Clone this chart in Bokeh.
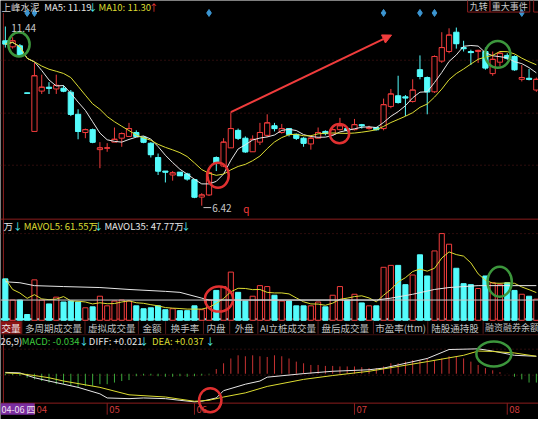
import pandas as pd
from bokeh.plotting import figure
from bokeh.models import Range1d, Label, Span, Arrow, NormalHead, ColumnDataSource
from bokeh.embed import file_html
from bokeh.resources import INLINE

# ---------------- data ----------------
stock_name = "上峰水泥"
opens = [11.04, 10.87, 10.90, 9.58, 8.50, 9.63, 9.74, 9.69, 9.71, 9.60,
         8.98, 8.47, 8.55, 7.99, 8.03, 8.20, 8.31, 8.36, 8.47, 8.34,
         8.17, 7.77, 7.39, 7.28, 7.36, 7.31, 7.15, 6.66, 6.72, 7.77,
         7.53, 8.04, 8.53, 8.31, 7.93, 8.20, 8.39, 8.66, 8.47, 8.58,
         8.42, 8.31, 8.15, 8.31, 8.50, 8.42, 8.55, 8.58, 8.55, 8.69,
         8.58, 8.61, 8.58, 9.20, 9.50, 9.47, 9.34, 10.23, 10.01, 9.61,
         10.47, 10.74, 11.28, 10.85, 10.74, 10.74, 10.74, 10.12, 10.44, 10.63,
         10.60, 9.96, 9.99, 9.66]
highs = [11.44, 11.14, 10.95, 9.58, 10.42, 10.09, 9.88, 10.09, 9.79, 9.66,
         9.12, 8.58, 8.58, 8.20, 8.17, 8.61, 8.47, 8.74, 8.53, 8.36,
         8.20, 7.88, 7.39, 7.39, 7.36, 7.34, 7.17, 6.77, 7.39, 7.80,
         8.31, 9.04, 8.58, 8.36, 8.39, 8.74, 8.98, 8.74, 8.71, 8.58,
         8.44, 8.34, 8.39, 8.61, 8.53, 8.66, 8.88, 8.61, 8.85, 8.71,
         8.66, 8.63, 9.42, 9.69, 10.06, 9.52, 9.96, 10.63, 10.04, 10.63,
         11.28, 11.39, 11.41, 11.04, 10.79, 10.79, 10.85, 10.74, 10.74, 10.69,
         10.63, 10.36, 10.25, 10.01]
lows = [10.85, 10.82, 10.60, 9.57, 8.50, 9.55, 9.55, 9.55, 9.60, 8.93,
        8.28, 8.31, 8.17, 7.47, 7.93, 8.20, 8.07, 8.36, 8.34, 8.17,
        7.77, 7.28, 7.07, 7.12, 7.26, 7.12, 6.63, 6.42, 6.69, 7.39,
        7.50, 8.04, 8.26, 7.90, 7.93, 8.12, 8.34, 8.50, 8.44, 8.36,
        8.26, 8.07, 7.99, 8.31, 8.39, 8.39, 8.53, 8.47, 8.53, 8.58,
        8.55, 8.53, 8.53, 9.15, 9.28, 8.93, 9.31, 9.96, 8.98, 9.58,
        10.42, 10.69, 10.82, 10.74, 10.36, 10.42, 10.23, 10.06, 10.33, 10.50,
        10.20, 9.90, 9.93, 9.61]
closes = [10.95, 11.04, 10.63, 9.57, 10.06, 9.74, 9.71, 9.79, 9.63, 8.98,
          8.50, 8.55, 8.20, 8.04, 8.04, 8.28, 8.44, 8.58, 8.36, 8.20,
          7.85, 7.39, 7.36, 7.34, 7.26, 7.17, 6.66, 6.72, 7.34, 7.61,
          8.20, 8.58, 8.31, 7.93, 8.28, 8.47, 8.74, 8.58, 8.58, 8.42,
          8.31, 8.17, 8.31, 8.47, 8.44, 8.55, 8.66, 8.53, 8.69, 8.66,
          8.61, 8.55, 9.25, 9.55, 9.31, 9.44, 9.66, 10.04, 9.61, 10.60,
          10.85, 11.20, 10.96, 10.82, 10.71, 10.77, 10.28, 10.52, 10.69, 10.55,
          10.23, 10.01, 9.96, 9.96]
volumes = [80.2, 39.2, 39.2, 11.2, 78.3, 39.2, 31.7, 44.8, 35.4, 37.3,
           35.4, 24.2, 26.1, 46.6, 28.0, 37.3, 39.2, 37.3, 28.0, 22.4,
           24.2, 28.0, 20.5, 22.4, 18.7, 18.7, 28.0, 20.5, 39.2, 57.8,
           65.3, 93.3, 54.1, 37.3, 46.6, 67.1, 65.3, 48.5, 37.3, 37.3,
           28.0, 28.0, 28.0, 35.4, 26.1, 48.5, 65.3, 39.2, 50.4, 33.6,
           28.0, 28.0, 102.6, 106.3, 106.3, 69.0, 87.7, 126.8, 85.8, 134.3,
           167.9, 147.3, 100.7, 70.9, 69.0, 61.5, 85.8, 72.7, 69.0, 72.7,
           57.8, 50.4, 46.6, 41.0]
macd_hist = [-0.010, -0.010, -0.015, -0.029, -0.041, -0.053, -0.064, -0.076, -0.076, -0.088,
             -0.099, -0.088, -0.088, -0.076, -0.076, -0.064, -0.053, -0.046, -0.018, -0.013,
             -0.013, -0.018, -0.022, -0.022, -0.018, -0.022, -0.018, -0.013, -0.006, 0.034,
             0.076, 0.111, 0.134, 0.127, 0.134, 0.127, 0.122, 0.134, 0.127, 0.111,
             0.088, 0.076, 0.064, 0.064, 0.057, 0.057, 0.053, 0.053, 0.053, 0.048,
             0.041, 0.041, 0.053, 0.076, 0.076, 0.088, 0.099, 0.099, 0.111, 0.099,
             0.111, 0.127, 0.122, 0.111, 0.088, 0.064, 0.041, 0.025, 0.011, 0.001,
             -0.022, -0.041, -0.064, -0.064]
diff_idx = [0, 2, 4, 6, 8, 10, 13, 14, 17, 19, 22, 24, 26, 27, 29, 30, 33, 35, 36,
            41, 45, 50, 52, 54, 58, 61, 65, 67, 70, 73]
diff_vals = [0.010, 0.006, -0.029, -0.053, -0.076, -0.099, -0.146, -0.176, -0.181, -0.176,
             -0.181, -0.193, -0.204, -0.200, -0.176, -0.123, -0.076, -0.053, -0.025,
             0.001, 0.018, 0.029, 0.041, 0.064, 0.111, 0.176, 0.181, 0.165, 0.134, 0.127]
dea_idx = [0, 2, 4, 6, 8, 13, 17, 22, 26, 28, 30, 33, 36, 41, 45, 50, 54, 58, 63, 65,
           67, 70, 73]
dea_vals = [0.006, 0.001, -0.013, -0.029, -0.053, -0.099, -0.153, -0.169, -0.200, -0.193,
            -0.169, -0.139, -0.092, -0.041, -0.013, 0.018, 0.053, 0.088, 0.134, 0.165,
            0.162, 0.151, 0.127]
mavol35_idx = [0, 2, 4, 8, 13, 17, 22, 24, 27, 28, 51, 53, 56, 59, 61, 63, 65, 73]
mavol35_vals = [74.6, 72.7, 67.1, 65.3, 63.4, 59.7, 56.0, 54.1, 42.9, 39.2, 39.2, 42.9,
                50.4, 59.7, 63.4, 65.3, 67.1, 67.1]
vol_cursor_level = 39.2
event_idx = [3, 4, 28, 52, 57, 59, 71]
month_tick_idx = [4, 14, 26, 48, 69]
month_tick_labels = ["04", "05", "06", "07", "08"]
cursor_date = "04-06 四"
tab_labels = ["交量", "多周期成交量", "虚拟成交量", "金额", "换手率", "内盘", "外盘",
              "AI立桩成交量", "盘后成交量", "市盈率(ttm)", "陆股通持股", "融资融券余额"]
top_tabs = ["九转", "重大事件"]

# ---------------- layout helpers ----------------
W, H = 538, 419
RW, RH = 554, 435
STEP, X0 = 7.49, 5.0
n = len(closes)
idx = list(range(n))

def sx(rx):
    return rx * W / RW

def sy(ry):
    return H - ry * H / RH

def lin_range(va, ya, vb, yb):
    k = (va - vb) / (yb - ya)
    return Range1d(va - (RH - ya) * k, va + ya * k)

p = figure(width=W, height=H, output_backend="svg", toolbar_location=None,
           x_range=Range1d(-X0 / STEP, (RW - X0) / STEP),
           y_range=lin_range(11.44, 27, 6.42, 213),
           x_axis_location=None, y_axis_location=None, min_border=0,
           background_fill_color="black", border_fill_color="black",
           outline_line_color=None)
p.grid.visible = False
p.extra_y_ranges = {"vol": lin_range(0, 332, 186.5, 232),
                    "macd": lin_range(0, 387.5, 0.7, 287.5),
                    "ref": Range1d(RH, 0)}
p.extra_x_ranges = {"ref": Range1d(0, RW)}

RED = "#f03c3c"
CYAN = "#54fcfc"
WHITE = "#e6e6e6"
YELLOW = "#dcdc32"
GRID = "#5a1a1a"
BORDER = "#8c1e1e"
FONT = "Noto Sans CJK SC"

def ref_seg(x0, y0, x1, y1, color, dash="solid", width=1):
    p.segment(x0=[x0], y0=[y0], x1=[x1], y1=[y1], line_color=color, line_dash=dash,
              line_width=width, x_range_name="ref", y_range_name="ref")

def txt(s, rx, ry, color, size=9.5, align="left"):
    p.add_layout(Label(x=sx(rx), y=sy(ry), x_units="screen", y_units="screen", text=s,
                       text_color=color, text_font_size=f"{size}px", text_font=FONT,
                       text_align=align, text_baseline="middle"))

# ---------------- grid / separators ----------------
for gy in (62, 117, 171, 242, 362, 389):
    ref_seg(0, gy, RW, gy, GRID, dash="1 3")
ref_seg(3, 13, 3, 418, BORDER)
ref_seg(0, 227, RW, 227, BORDER)
ref_seg(0, 331, RW, 331, BORDER, width=2)
ref_seg(0, 331, RW, 331, CYAN, dash="4 3", width=2)
ref_seg(0, 347, RW, 347, "#3a1010")
ref_seg(0, 418, RW, 418, BORDER)

# ---------------- candles ----------------
up = [c >= o for o, c in zip(opens, closes)]
src = ColumnDataSource(dict(
    x=idx, o=opens, h=highs, l=lows, c=closes,
    top=[max(o, c) for o, c in zip(opens, closes)],
    bot=[min(o, c) for o, c in zip(opens, closes)],
    col=[RED if u else CYAN for u in up],
    fill=["black" if u else CYAN for u in up],
    vol=volumes,
    xl=[i - 0.36 for i in idx], xr=[i + 0.36 for i in idx],
))
p.segment(x0="x", y0="h", x1="x", y1="l", line_color="col", source=src)
p.vbar(x="x", width=0.72, top="top", bottom="bot", fill_color="fill", line_color="col", source=src)
p.segment(x0="xl", y0="c", x1="xr", y1="c", line_color="col", source=src)

cs = pd.Series(closes)
p.line(idx, list(cs.rolling(5, min_periods=1).mean()), line_color=WHITE, line_width=1)
p.line(idx, list(cs.rolling(10, min_periods=1).mean()), line_color=YELLOW, line_width=1)

# event markers
p.scatter(event_idx, [11.82] * len(event_idx), marker="diamond", size=7,
          fill_color="#3c96d2", line_color="#3c96d2")

# price notes
txt("11.44", 11, 29, "#c8c8c8", 10)
ref_seg(209, 215, 217, 215, "#c8c8c8")
txt("6.42", 218, 215.5, "#c8c8c8", 10)
txt("q", 250, 216, RED, 10)

# arrow
p.add_layout(Arrow(end=NormalHead(size=9, fill_color=RED, line_color=RED),
                   x_start=31, y_start=highs[31], x_end=53.1, y_end=11.20,
                   line_color=RED, line_width=2))

# ---------------- volume ----------------
p.vbar(x="x", width=0.7, top="vol", bottom=0, fill_color="fill", line_color="col",
       source=src, y_range_name="vol")
p.add_layout(Span(location=vol_cursor_level, dimension="width", line_color="#c8c8c8",
                  line_width=1, y_range_name="vol"))
vs = pd.Series(volumes)
p.line(idx, list(vs.rolling(5, min_periods=1).mean()), line_color=YELLOW, line_width=1,
       y_range_name="vol")
p.line(mavol35_idx, mavol35_vals, line_color=WHITE, line_width=1, y_range_name="vol")

# ---------------- MACD ----------------
hsrc = ColumnDataSource(dict(x=idx, v=macd_hist, z=[0] * n,
                             col=["#c83232" if v >= 0 else "#3caa3c" for v in macd_hist]))
p.segment(x0="x", y0="z", x1="x", y1="v", line_color="col", source=hsrc, y_range_name="macd")
p.line(diff_idx, diff_vals, line_color=WHITE, line_width=1, y_range_name="macd")
p.line(dea_idx, dea_vals, line_color=YELLOW, line_width=1, y_range_name="macd")

# ---------------- annotation circles ----------------
def ring(x, y, w, h, color, rng="default"):
    kw = {} if rng == "default" else {"y_range_name": rng}
    p.ellipse(x=[x], y=[y], width=w * W / RW, height=h * H / RH, width_units="screen",
              height_units="screen", fill_color=None, line_color=color, line_width=2.5, **kw)

GREEN_C = "#3c963c"
RED_C = "#e03030"
ring(1.87, 10.94, 22, 25, GREEN_C)
ring(29.24, 7.27, 22, 26, RED_C)
ring(45.93, 8.44, 20, 20, RED_C)
ring(67.69, 10.66, 26, 28, GREEN_C)
ring(29.37, 41.0, 29, 26, RED_C, "vol")
ring(67.96, 74.6, 25, 31, GREEN_C, "vol")
ring(28.17, -0.1925, 23, 25, RED_C, "macd")
ring(67.16, 0.1435, 36, 26, GREEN_C, "macd")

# ---------------- header texts ----------------
txt(stock_name, 1, 7, "#d2d2d2", 9.5)
txt("MA5: 11.19", 45, 7, WHITE, 9.5)
txt("↓", 90, 7, CYAN, 9.5)
txt("MA10: 11.30", 101, 7, YELLOW, 9.5)
txt("↑", 153, 7, RED, 9.5)
for (l, r) in ((481, 504), (504, 545), (549, 560)):
    p.quad(left=[l], right=[r], top=[-1], bottom=[12], fill_color=None, line_color=BORDER,
           x_range_name="ref", y_range_name="ref")
txt(top_tabs[0], 492.5, 6.5, "#c8c8c8", 9, "center")
txt(top_tabs[1], 524.5, 6.5, "#c8c8c8", 9, "center")

txt("万", 3, 234, WHITE, 9.5)
txt("↓", 13, 234, CYAN, 9.5)
txt("MAVOL5: 61.55万", 24, 234, YELLOW, 9.5)
txt("↓", 96, 234, CYAN, 9.5)
txt("MAVOL35: 47.77万", 107, 234, WHITE, 9.5)
txt("↓", 186, 234, CYAN, 9.5)

# tab bar
p.quad(left=[0], right=[22], top=[333], bottom=[346], fill_color="#8a1414", line_color=None,
       x_range_name="ref", y_range_name="ref")
for sxp in (22, 87, 142, 170, 209, 236, 265, 327, 384, 440, 497):
    ref_seg(sxp, 333, sxp, 346, "#5a1a1a")
txt(tab_labels[0], 1, 339.5, "#f0f0f0", 9.5)
tab_centers = [54.5, 114.5, 156, 190, 222, 251, 296, 355, 412, 468]
for lab, cx in zip(tab_labels[1:11], tab_centers):
    txt(lab, cx, 339.5, "#c0c0c0", 9.5, "center")
txt(tab_labels[11], 499, 339.5, "#c0c0c0", 9)

txt("26,9)", 0, 353, WHITE, 9.5)
txt("MACD: -0.034", 22, 353, "#3cc83c", 9.5)
txt("↓", 81, 353, CYAN, 9.5)
txt("DIFF: +0.021", 91, 353, WHITE, 9.5)
txt("↓", 143, 353, CYAN, 9.5)
txt("DEA: +0.037", 156, 353, YELLOW, 9.5)
txt("↓", 211, 353, CYAN, 9.5)

# date axis
for ti, lab in zip(month_tick_idx, month_tick_labels):
    rx = X0 + STEP * ti
    ref_seg(rx, 418, rx, 430, BORDER)
    txt(lab, rx + 2, 424.5, "#d23c3c", 9.5)
p.quad(left=[0], right=[35], top=[418], bottom=[430], fill_color="#7a2d9e", line_color=None,
       x_range_name="ref", y_range_name="ref")
txt(cursor_date, 1, 424.5, "#f0e0f0", 9)

open("out.html", "w").write(file_html(p, INLINE))
